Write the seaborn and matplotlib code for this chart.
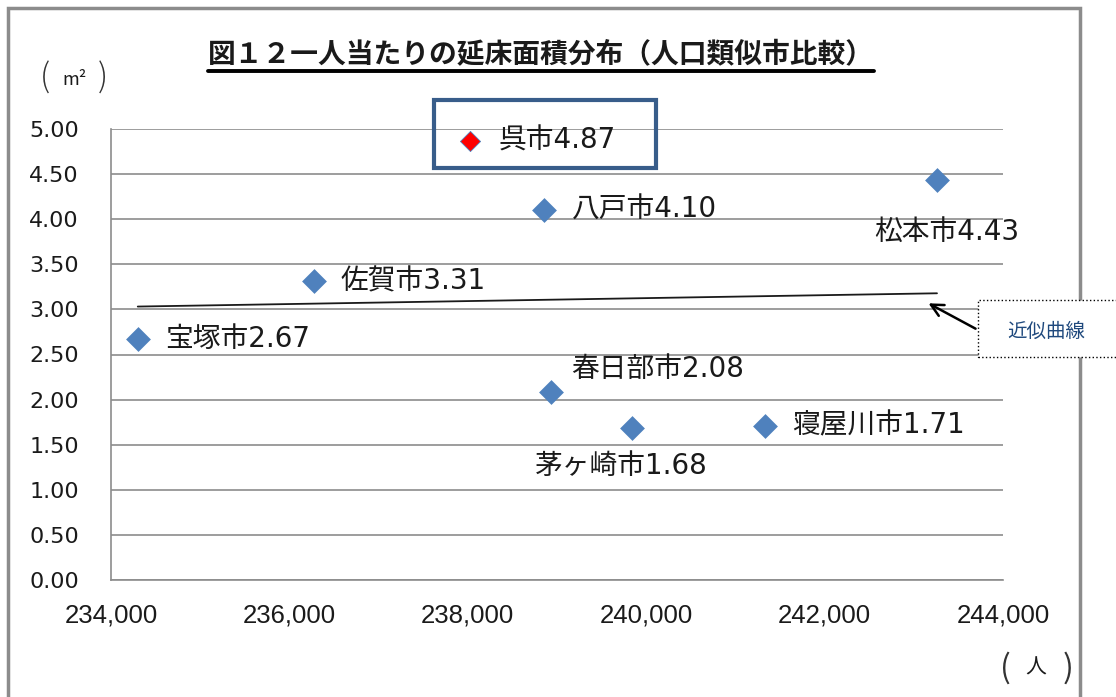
import numpy as np
import pandas as pd
import matplotlib
matplotlib.use("Agg")
import matplotlib.pyplot as plt
import seaborn as sns
from matplotlib.patches import Rectangle, FancyArrowPatch
from matplotlib.lines import Line2D


# Data --------------------------------------------------------------------------

cities = ["宝塚市", "佐賀市", "呉市", "八戸市", "春日部市", "茅ヶ崎市", "寝屋川市", "松本市"]
population = [234300, 236280, 238030, 238850, 238930, 239840, 241330, 243260]
floor_area = [2.67, 3.31, 4.87, 4.10, 2.08, 1.68, 1.71, 4.43]
highlight = "呉市"

x_ticks = [234000, 236000, 238000, 240000, 242000, 244000]
y_ticks = [0.0, 0.5, 1.0, 1.5, 2.0, 2.5, 3.0, 3.5, 4.0, 4.5, 5.0]

title = "図１２一人当たりの延床面積分布（人口類似市比較）"

# label offsets (points) from each marker
label_offsets = {
    "宝塚市": (19.5, 0),
    "佐賀市": (19, 0),
    "呉市": (20, 0),
    "八戸市": (20, 0),
    "春日部市": (15, 17),
    "茅ヶ崎市": (-70, -27),
    "寝屋川市": (19.5, 0),
    "松本市": (-45, -37),
}

df = pd.DataFrame({"city": cities, "population": population, "floor_area": floor_area})
df["is_kure"] = df["city"] == highlight

# Plot --------------------------------------------------------------------------

sns.set_style("white")
plt.rcParams["font.family"] = ["Noto Sans CJK JP", "DejaVu Sans"]
label_fonts = ["DejaVu Sans", "Noto Sans CJK JP"]

W, H = 1116, 697
fig = plt.figure(figsize=(W / 100, H / 100), dpi=100)
ax = fig.add_axes([111 / W, 1 - 580 / H, (1003 - 111) / W, (580 - 129) / H])

grey = "#8C8C8C"
blue = "#4F81BD"
ink = "#1a1a1a"

sns.regplot(data=df, x="population", y="floor_area", scatter=False, ci=None,
            color=ink, line_kws={"lw": 1.3, "zorder": 3}, ax=ax)

sns.scatterplot(data=df[~df["is_kure"]], x="population", y="floor_area",
                marker="D", s=160, color=blue, linewidth=0, zorder=4, ax=ax)
sns.scatterplot(data=df[df["is_kure"]], x="population", y="floor_area",
                marker="D", s=105, color="#FF0000", edgecolor=blue, linewidth=0.6,
                zorder=4, ax=ax)

for _, row in df.iterrows():
    dx, dy = label_offsets[row["city"]]
    ax.annotate(f"{row['city']}{row['floor_area']:.2f}",
                xy=(row["population"], row["floor_area"]),
                xytext=(dx, dy), textcoords="offset points",
                ha="left", va="center", fontsize=20, color=ink,
                family=label_fonts, zorder=5)

ax.set_xlim(234000, 244000)
ax.set_ylim(0, 5)
ax.set_xticks(x_ticks)
ax.set_xticklabels([f"{v:,}" for v in x_ticks], family=["Liberation Sans"], fontsize=18.5)
ax.set_yticks(y_ticks)
ax.set_yticklabels([f"{v:.2f}" for v in y_ticks], family=["DejaVu Sans"], fontsize=16)
ax.set_xlabel("")
ax.set_ylabel("")

ax.grid(axis="y", color=grey, lw=1.2)
ax.grid(axis="x", visible=False)
for side in ["top", "right"]:
    ax.spines[side].set_visible(False)
for side in ["left", "bottom"]:
    ax.spines[side].set_color(grey)
    ax.spines[side].set_linewidth(1.2)
ax.tick_params(axis="both", direction="out", length=8, width=1.2, color=grey,
               labelcolor=ink)
ax.tick_params(axis="y", pad=15)
ax.tick_params(axis="x", pad=9)
ax.set_axisbelow(True)

# Frame, title, units, callouts -------------------------------------------------

fig.patches.append(Rectangle((8 / W, -0.1), (1080 - 8) / W, 1 - 8 / H + 0.1,
                             transform=fig.transFigure, fill=False,
                             edgecolor=grey, lw=2.5, zorder=0))

t = fig.text(541 / W, 1 - 55 / H, title, ha="center", va="center",
             fontsize=20, fontweight="bold", color=ink)
fig.canvas.draw()
bb = t.get_window_extent().transformed(fig.transFigure.inverted())
fig.add_artist(Line2D([bb.x0, bb.x1], [1 - 71 / H, 1 - 71 / H],
                      transform=fig.transFigure, color="black", lw=2.8))

# units
fig.text(45 / W, 1 - 78 / H, "(", ha="center", va="center", fontsize=23,
         color="#333333", fontweight="light")
fig.text(74 / W, 1 - 80 / H, "m²", ha="center", va="center", fontsize=13, color=ink)
fig.text(103 / W, 1 - 78 / H, ")", ha="center", va="center", fontsize=23,
         color="#333333", fontweight="light")
fig.text(1005 / W, 1 - 668 / H, "(", ha="center", va="center", fontsize=23, color="#333333")
fig.text(1036 / W, 1 - 668 / H, "人", ha="center", va="center", fontsize=15, color=ink)
fig.text(1068 / W, 1 - 668 / H, ")", ha="center", va="center", fontsize=23, color="#333333")

# box around Kure
fig.patches.append(Rectangle((434 / W, 1 - 168 / H), 222 / W, 68 / H,
                             transform=fig.transFigure, fill=False,
                             edgecolor="#385D8A", lw=3, zorder=6))

# trend line callout
fig.patches.append(Rectangle((978 / W, 1 - 357 / H), 0.2, 57 / H,
                             transform=fig.transFigure, facecolor="white",
                             edgecolor="black", linestyle=":", lw=1, zorder=6))
fig.text(1007 / W, 1 - 331 / H, "近似曲線", ha="left", va="center",
         fontsize=14, color="#1F497D", zorder=7)
fig.add_artist(FancyArrowPatch(
    (978 / W, 1 - 330 / H), (926 / W, 1 - 302 / H), transform=fig.transFigure,
    arrowstyle="->", mutation_scale=22, lw=1.8, color="black", zorder=7))

fig.savefig("out.png", dpi=100)
